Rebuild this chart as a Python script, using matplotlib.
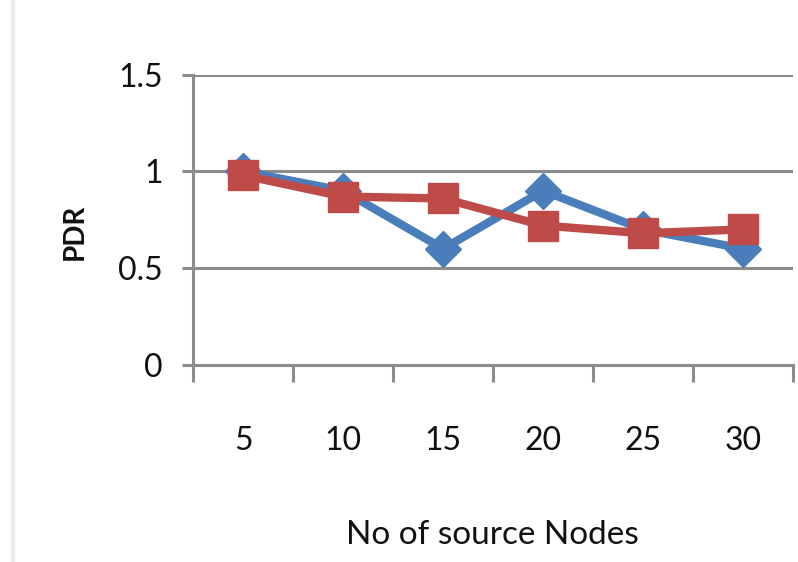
import numpy as np
from matplotlib import pyplot as plt
from matplotlib.lines import Line2D

## data
nodes = ['5', '10', '15', '20', '25', '30']
pdr_blue = [1.0, 0.9, 0.6, 0.9, 0.7, 0.6]
pdr_red = [0.98, 0.87, 0.86, 0.72, 0.68, 0.70]
yticks = [0, 0.5, 1, 1.5]
ylabels = ['0', '0.5', '1', '1.5']

plt.rcParams['font.family'] = ['Lato', 'DejaVu Sans']

fig = plt.figure(figsize=(7.98, 5.62), dpi=100)
ax = fig.add_axes([0.242, 0.351, 0.752, 0.516])

x = np.arange(len(nodes))
ax.plot(x, pdr_blue, color='#4a7ebb', linewidth=6, marker='D',
        markersize=18, zorder=3)
ax.plot(x, pdr_red, color='#be4b48', linewidth=6, marker='s',
        markersize=21, zorder=4)

ax.set_xlim(-0.5, len(nodes) - 0.5)
ax.set_ylim(0, 1.5)

grid_col = '#8c8c8c'
for v in yticks[1:]:
    ax.axhline(v, color=grid_col, linewidth=2.2, zorder=1)

for s in ['top', 'right']:
    ax.spines[s].set_visible(False)
for s in ['left', 'bottom']:
    ax.spines[s].set_color(grid_col)
    ax.spines[s].set_linewidth(2.2)

ax.set_yticks(yticks)
ax.set_yticklabels(ylabels, fontsize=23)
ax.tick_params(axis='y', direction='out', length=8, width=2.2,
               color=grid_col, pad=14, labelcolor='#111111')

## category labels centred, ticks between categories
ax.set_xticks(x)
ax.set_xticklabels(nodes, fontsize=23)
ax.tick_params(axis='x', length=0, pad=44, labelcolor='#111111')
ax.set_xticks(np.arange(-0.5, len(nodes)), minor=True)
ax.tick_params(axis='x', which='minor', direction='out', length=12,
               width=2.2, color=grid_col)

## axis titles placed where the reference has them
fig.text(0.094, 0.587, 'PDR', fontsize=20, fontweight='bold',
         rotation=90, ha='center', va='center', color='#111111')
fig.text(0.617, 0.048, 'No of source Nodes', fontsize=24,
         ha='center', va='center', color='#111111')

## faint border line on the left of the picture
fig.add_artist(Line2D([0.016, 0.016], [0.0, 1.0], color='#ececec',
                      linewidth=3))

fig.savefig('out.png', dpi=100)
